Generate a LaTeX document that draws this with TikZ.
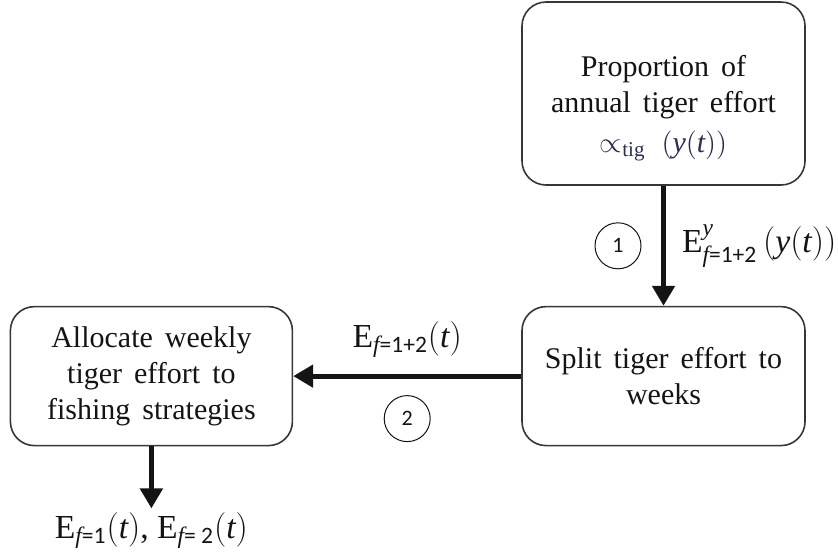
\documentclass[tikz,border=0pt]{standalone}
\usepackage{amsmath}
\usepackage{fontspec}
\setmainfont{Liberation Serif}
\newfontfamily\calib{Carlito}
\usepackage{tikz}
\usetikzlibrary{positioning,arrows.meta}
\definecolor{colortext}  {RGB}{ 20, 20, 20}
\definecolor{colorline}  {RGB}{ 55, 55, 55}
\definecolor{colormath}  {RGB}{ 45, 45, 80}

\newcommand{\effort}[1]{$\mathrm{E}_{\textit{f}\text{\calib =#1}}(\textit{t})$}

\begin{document}
\begin{tikzpicture}[
    x=0.5pt, y=-0.5pt,
    node distance = 60pt, auto,
    font={\fontsize{15}{18}\selectfont\spaceskip=0.4em plus 0.1em},
    base/.style={text=colortext,inner sep=4pt,align=center,rectangle,rounded corners=12pt,draw=colorline,line width=0.8pt},
    txt/.style={text=colortext,inner sep=2pt,align=center,font={\fontsize{16.8}{19}\selectfont}},
    num/.style={circle,draw=colortext,line width=0.5pt,minimum size=23pt,inner sep=0pt,font={\calib\fontsize{11}{11}\selectfont}},
    flow/.style={colortext,line width=2.5pt,-{Triangle[length=10pt,width=11pt]}},
]
    \useasboundingbox (0,0) rectangle (838,559);

    \node[base,minimum width=141.5pt,minimum height=91.5pt] (propbox) at (663.5,93.5)
        {\rule{0pt}{25pt}Proportion of\\ annual tiger effort\\[2pt]
         \textcolor{colormath}{$\propto_{\text{tig}}\;(\textit{y}(\textit{t}))$}};

    \node[base,minimum width=141.5pt,minimum height=69.5pt,below=of propbox] (splitbox)
        {Split tiger effort to\\ weeks};

    \node[base,minimum width=141pt,minimum height=69.5pt,left=114pt of splitbox] (allocbox)
        {Allocate weekly\\ tiger effort to\\ fishing strategies};

    \node[txt,below=31pt of allocbox] (effout) {\effort{1}, \effort{ 2}};

    \draw[flow] (propbox) -- node[num,left=11pt] (step1) {1}
        node[txt,right=6pt] (eff1) {$\mathrm{E}^{\textit{y}}_{\textit{f}\text{\calib =1+2}}\,(\textit{y}(\textit{t}))$} (splitbox);
    \draw[flow] (splitbox) -- node[txt,above=6pt] (eff2) {\effort{1+2}}
        node[num,below=9.5pt] (step2) {2} (allocbox);
    \draw[flow] (allocbox) -- (effout);

\end{tikzpicture}
\end{document}
